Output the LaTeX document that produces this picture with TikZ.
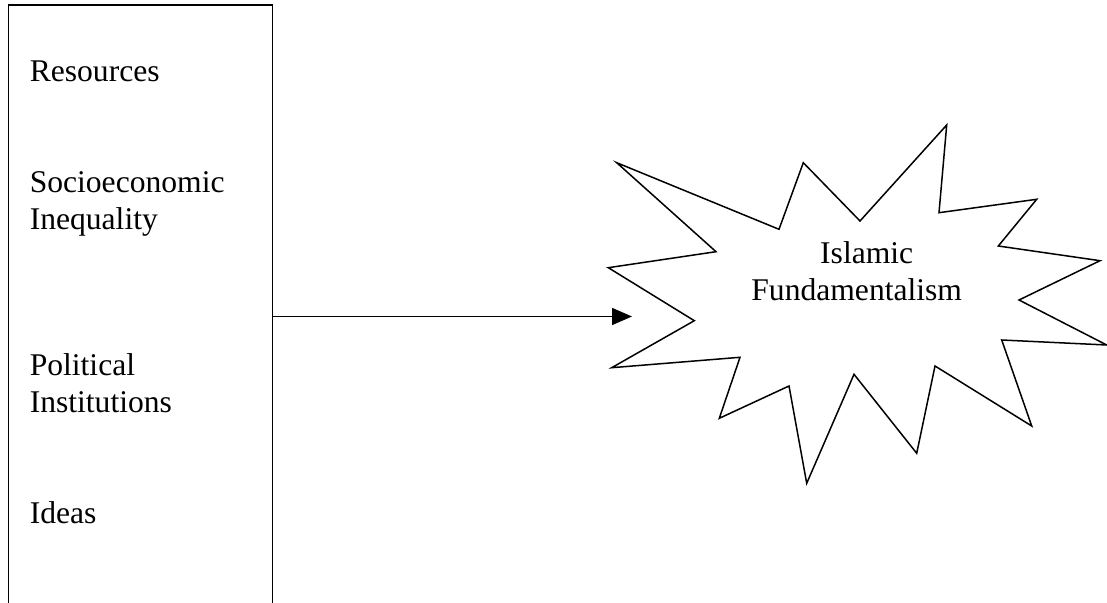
\documentclass[tikz,border=0pt]{standalone}
\usepackage{fontspec}
\setmainfont{Liberation Serif}
\usetikzlibrary{arrows.meta}

\tikzset{
    factor/.style={anchor=base west, inner sep=0pt, align=left,
        font=\fontsize{15.8}{18.6}\selectfont},
    outcome/.style={inner sep=0pt, align=center,
        font=\fontsize{15.8}{18.35}\selectfont}
}

\begin{document}
\begin{tikzpicture}[x=0.5pt, y=-0.5pt, line width=0.75pt]
    \useasboundingbox (0, 0) rectangle (1107, 603);
    % left box, open at the bottom of the page
    \node[draw, minimum width=264.4*0.5pt, minimum height=640*0.5pt, inner sep=0pt] (box) at (140.5, 325) {};
    % labels: base anchor sits on the last line
    \node[factor] (res) at (29, 81.7) {Resources};
    \node[factor] (soc) at (29, 229.3) {Socioeconomic\\Inequality};
    \node[factor] (pol) at (29, 412.3) {Political\\Institutions};
    \node[factor] (ide) at (29, 523.3) {Ideas};
    % explosion shape
    \draw (616.7, 162.7) -- (779, 229.3) -- (803.3, 162.7) -- (860, 221)
        -- (946.7, 125) -- (939, 212.7) -- (1036.7, 199.3) -- (998.3, 246)
        -- (1100, 260.7) -- (1019, 300) -- (1106.7, 345) -- (1001.7, 340)
        -- (1031.7, 426) -- (935, 366) -- (916.7, 453.3) -- (854, 374.3)
        -- (806.7, 483.3) -- (789, 386) -- (719.3, 418.3) -- (740, 357.3)
        -- (611.7, 367.7) -- (694.3, 320.7) -- (608.3, 267.7) -- (716, 251.7)
        -- cycle;
    \node[outcome, anchor=base] (isl) at (856.7, 300.7) {\hspace*{10pt}Islamic\\Fundamentalism};
    % connector
    \coordinate (tip) at (632, 316.5);
    \draw[-{Triangle[length=10pt, width=8.5pt]}, line width=0.75pt] (box.east |- tip) -- (tip);
\end{tikzpicture}
\end{document}
